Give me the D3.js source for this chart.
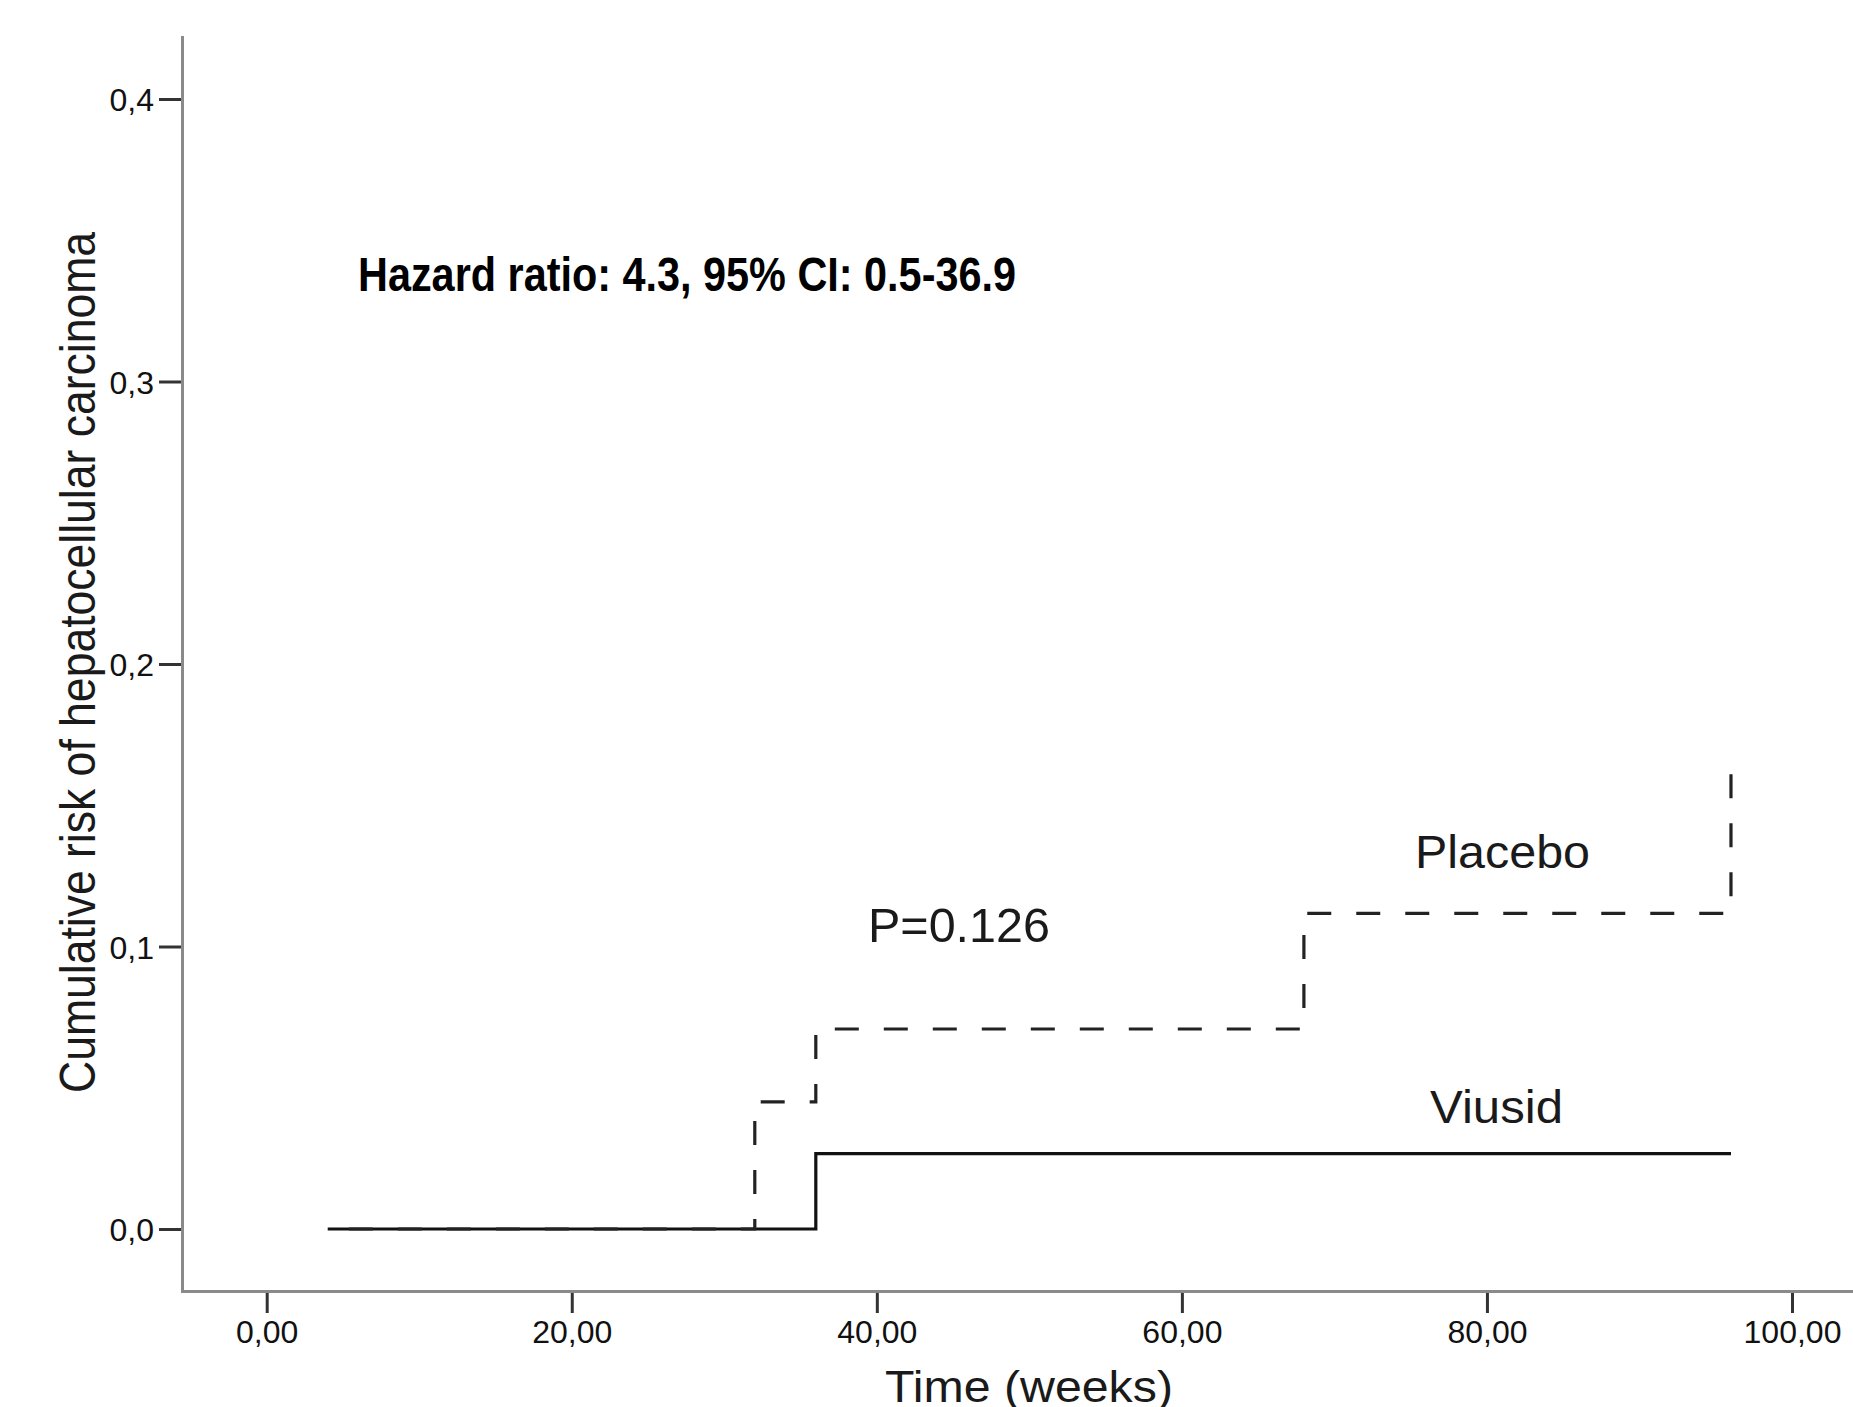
<!DOCTYPE html>
<html>
<head>
<meta charset="utf-8">
<script src="https://cdn.jsdelivr.net/npm/d3@7"></script>
<style>
  body { margin: 0; background: #fff; }
  svg { display: block; }
  text { font-family: Arial, "Liberation Sans", sans-serif; }
</style>
</head>
<body>
<svg width="1853" height="1407"></svg>
<script>
// Kaplan-Meier style cumulative risk
const viusidWeeks = [4, 36, 96];
const viusidRisk = [0, 0.0267, 0.0267];

const placeboWeeks = [4, 32, 36, 68, 96, 96];
const placeboRisk = [0, 0.045, 0.0708, 0.1117, 0.1117, 0.161];

const xTicks = [0, 20, 40, 60, 80, 100];
const yTicks = [0, 0.1, 0.2, 0.3, 0.4];

const svg = d3.select("svg");

const x = d3.scaleLinear().domain([0, 100]).range([266.7, 1792]);
const y = d3.scaleLinear().domain([0, 0.4]).range([1229, 99]);

const axisX = 182.5; // y axis position
const axisY = 1291.5; // x axis position

// axis lines
svg.append("line")
  .attr("x1", axisX).attr("x2", axisX)
  .attr("y1", 36).attr("y2", axisY + 1.5)
  .attr("stroke", "#8a8a8a").attr("stroke-width", 3);
svg.append("line")
  .attr("x1", axisX - 1.5).attr("x2", 1853)
  .attr("y1", axisY).attr("y2", axisY)
  .attr("stroke", "#8a8a8a").attr("stroke-width", 3);

// y axis ticks
const gy = svg.append("g")
  .attr("transform", `translate(${axisX - 1.5},0)`)
  .call(d3.axisLeft(y).tickValues(yTicks).tickSize(22).tickSizeOuter(0)
    .tickFormat(d => d3.format(".1f")(d).replace(".", ",")));
gy.select(".domain").remove();
gy.selectAll(".tick line").attr("stroke", "#333").attr("stroke-width", 3);
gy.selectAll(".tick text")
  .attr("x", -27).attr("dy", "0.36em")
  .attr("fill", "#111")
  .style("font-size", "32px");

// x axis ticks
const gx = svg.append("g")
  .attr("transform", `translate(0,${axisY + 1.5})`)
  .call(d3.axisBottom(x).tickValues(xTicks).tickSize(20).tickSizeOuter(0)
    .tickFormat(d => d3.format(".2f")(d).replace(".", ",")));
gx.select(".domain").remove();
gx.selectAll(".tick line").attr("stroke", "#333").attr("stroke-width", 3);
gx.selectAll(".tick text")
  .attr("y", 50).attr("dy", 0)
  .attr("fill", "#111")
  .style("font-size", "32px");

// step curves
const line = d3.line()
  .x(d => x(d[0]))
  .y(d => y(d[1]))
  .curve(d3.curveStepAfter);

svg.append("path")
  .datum(viusidWeeks.map((w, i) => [w, viusidRisk[i]]))
  .attr("d", line)
  .attr("fill", "none")
  .attr("stroke", "#111")
  .attr("stroke-width", 3.2);

const placeboPath = svg.append("path")
  .datum(placeboWeeks.map((w, i) => [w, placeboRisk[i]]))
  .attr("d", line)
  .attr("fill", "none")
  .attr("stroke", "#222")
  .attr("stroke-width", 3.2)
  .attr("stroke-dasharray", "24,25");

// shift the dash phase so the curve ends on a dash, like the original
const len = placeboPath.node().getTotalLength();
placeboPath.attr("stroke-dashoffset", (((24 - len) % 49) + 49) % 49);

// labels
svg.append("text")
  .attr("x", 358).attr("y", 291)
  .attr("textLength", 658).attr("lengthAdjust", "spacingAndGlyphs")
  .style("font-family", "'Liberation Sans Narrow', 'Arial Narrow', Arial, sans-serif")
  .style("font-weight", "bold")
  .style("font-size", "49px")
  .attr("fill", "#000")
  .text("Hazard ratio: 4.3, 95% CI: 0.5-36.9");

svg.append("text")
  .attr("x", 868).attr("y", 942)
  .attr("textLength", 182).attr("lengthAdjust", "spacingAndGlyphs")
  .style("font-size", "48px").attr("fill", "#1a1a1a")
  .text("P=0.126");

svg.append("text")
  .attr("x", 1415).attr("y", 868)
  .attr("textLength", 175).attr("lengthAdjust", "spacingAndGlyphs")
  .style("font-size", "46px").attr("fill", "#1a1a1a")
  .text("Placebo");

svg.append("text")
  .attr("x", 1430).attr("y", 1123)
  .attr("textLength", 133).attr("lengthAdjust", "spacingAndGlyphs")
  .style("font-size", "46px").attr("fill", "#1a1a1a")
  .text("Viusid");

svg.append("text")
  .attr("x", 885).attr("y", 1402)
  .attr("textLength", 288).attr("lengthAdjust", "spacingAndGlyphs")
  .style("font-size", "45px").attr("fill", "#1a1a1a")
  .text("Time (weeks)");

svg.append("text")
  .attr("transform", "translate(95,1093) rotate(-90)")
  .attr("textLength", 861).attr("lengthAdjust", "spacingAndGlyphs")
  .style("font-size", "50px").attr("fill", "#1a1a1a")
  .text("Cumulative risk of hepatocellular carcinoma");
</script>
</body>
</html>
